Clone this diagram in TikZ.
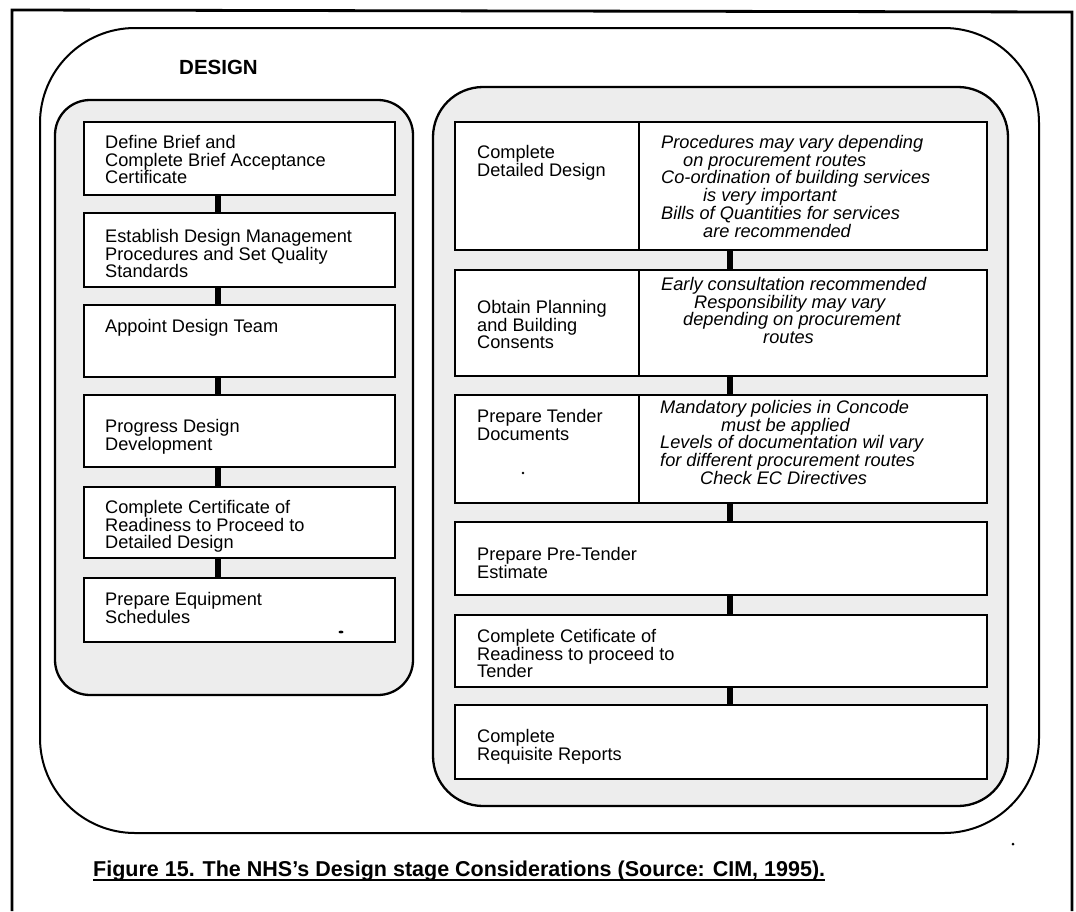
\documentclass[tikz,border=0pt]{standalone}
\usepackage{fontspec}
\setmainfont{Liberation Sans}
\usetikzlibrary{calc}
\newcommand{\firstln}{\rule{0pt}{14pt}}
\begin{document}
\begin{tikzpicture}[x=1pt,y=-1pt,
  box/.style={draw=black,line width=1.8pt,fill=white,inner sep=0pt},
  panel/.style={draw=black,line width=2.3pt,fill=gray!14,inner sep=0pt},
  conn/.style={line width=6pt},
  lbl/.style={anchor=north west,inner sep=0pt,align=left,font=\fontsize{18.2}{17.8}\selectfont},
  note/.style={anchor=north west,inner sep=0pt,align=left,font=\fontsize{18.2}{17.8}\selectfont\itshape},
  speck/.style={fill=black}
]
\useasboundingbox (0,0) rectangle (1076,911);
% outer frame
\draw[line width=2.8pt] (12,911) -- (12,10) -- (1072,12) -- (1072,911);
% design stage container
\node[draw=black,line width=2pt,fill=white,rounded corners=95pt,minimum width=999pt,minimum height=805pt,inner sep=0pt] (design) at (539.5,430.5) {};
\node[anchor=base west,inner sep=0pt,font=\bfseries\fontsize{20.5}{24}\selectfont] (title) at (179,74) {DESIGN};
% panels
\node[panel,rounded corners=35pt,minimum width=358pt,minimum height=595pt] (lp) at (234,397.5) {};
\node[panel,rounded corners=50pt,minimum width=575pt,minimum height=719pt] (rp) at (720.5,446.5) {};
% connector x positions
\coordinate (cl) at (218,0);
\coordinate (cr) at (730,0);
\coordinate (dv) at (639,0);
% left boxes
\node[box,minimum width=311pt,minimum height=73pt] (b1) at (239.5,158.5) {};
\node[box,minimum width=311pt,minimum height=74pt] (b2) at (239.5,250) {};
\node[box,minimum width=311pt,minimum height=72pt] (b3) at (239.5,341) {};
\node[box,minimum width=311pt,minimum height=72pt] (b4) at (239.5,431) {};
\node[box,minimum width=311pt,minimum height=71pt] (b5) at (239.5,522.5) {};
\node[box,minimum width=311pt,minimum height=64pt] (b6) at (239.5,610) {};
\foreach \a/\b in {b1/b2,b2/b3,b3/b4,b4/b5,b5/b6}
  \draw[conn] (\a.south -| cl) -- (\b.north -| cl);
\node[lbl] (t1) at (105,134) {\firstln Define Brief and\\Complete Brief Acceptance\\Certificate};
\node[lbl] (t2) at (105,228) {\firstln Establish Design Management\\Procedures and Set Quality\\Standards};
\node[lbl] (t3) at (105,318) {\firstln Appoint Design Team};
\node[lbl] (t4) at (105,418) {\firstln Progress Design\\Development};
\node[lbl] (t5) at (105,499) {\firstln Complete Certificate of\\Readiness to Proceed to\\Detailed Design};
\node[lbl] (t6) at (105,591) {\firstln Prepare Equipment\\Schedules};
% right boxes
\node[box,minimum width=532pt,minimum height=128pt] (r1) at (721,186) {};
\node[box,minimum width=532pt,minimum height=106pt] (r2) at (721,323) {};
\node[box,minimum width=532pt,minimum height=108pt] (r3) at (721,449) {};
\node[box,minimum width=532pt,minimum height=73pt] (r4) at (721,558.5) {};
\node[box,minimum width=532pt,minimum height=72pt] (r5) at (721,651) {};
\node[box,minimum width=532pt,minimum height=74pt] (r6) at (721,742) {};
\foreach \a/\b in {r1/r2,r2/r3,r3/r4,r4/r5,r5/r6}
  \draw[conn] (\a.south -| cr) -- (\b.north -| cr);
\foreach \a in {r1,r2,r3}
  \draw[line width=1.6pt] (\a.north -| dv) -- (\a.south -| dv);
\node[lbl] (s1) at (477,144) {\firstln Complete\\Detailed Design};
\node[lbl] (s2) at (477,299) {\firstln Obtain Planning\\and Building\\Consents};
\node[lbl] (s3) at (477,408) {\firstln Prepare Tender\\Documents};
\node[lbl] (s4) at (477,546) {\firstln Prepare Pre-Tender\\Estimate};
\node[lbl] (s5) at (477,628) {\firstln Complete Cetificate of\\Readiness to proceed to\\Tender};
\node[lbl] (s6) at (477,728) {\firstln Complete\\Requisite Reports};
\node[note] (n1) at (661,134) {\firstln Procedures may vary depending\\\hspace*{22pt}on procurement routes\\Co-ordination of building services\\\hspace*{42pt}is very important\\Bills of Quantities for services\\\hspace*{42pt}are recommended};
\node[note] (n2) at (661,276) {\firstln Early consultation recommended\\\hspace*{33pt}Responsibility may vary\\\hspace*{22pt}depending on procurement\\\hspace*{102pt}routes};
\node[note] (n3) at (660,399) {\firstln Mandatory policies in Concode\\\hspace*{61pt}must be applied\\Levels of documentation wil vary\\for different procurement routes\\\hspace*{40pt}Check EC Directives};
% specks from the original print
\fill[speck] (523,473) circle (1.3);
\fill[speck] (341,632) ellipse (2.5 and 1.4);
\fill[speck] (1013,844) circle (1.5);
% caption
\node[anchor=base west,inner sep=0pt,font=\bfseries\fontsize{21.5}{25}\selectfont] (cap) at (93,876) {Figure 15. The NHS's Design stage Considerations (Source: CIM, 1995).};
\draw[line width=1.8pt] ($(cap.base west)+(0,4)$) -- ($(cap.base east)+(0,4)$);
\end{tikzpicture}
\end{document}
